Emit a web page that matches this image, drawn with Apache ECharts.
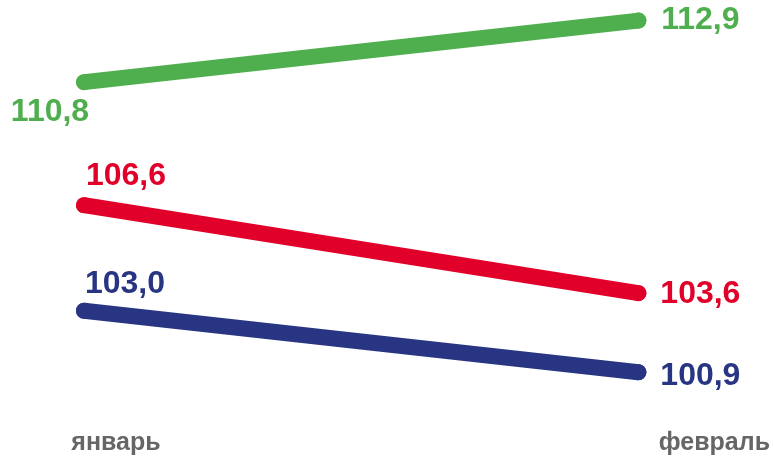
<!DOCTYPE html>
<html><head><meta charset="utf-8">
<script src="https://cdn.jsdelivr.net/npm/echarts@6/dist/echarts.min.js"></script>
<style>html,body{margin:0;padding:0;background:#fff}#c{width:773px;height:457px}</style>
</head><body><div id="c"></div>
<script>
const categories = ['январь', 'февраль'];
const greenValues = [110.8, 112.9];
const redValues = [106.6, 103.6];
const blueValues = [103.0, 100.9];

const fmt = p => p.value.toFixed(1).replace('.', ',');
const FONT = '"Liberation Sans", Arial, sans-serif';

function mkSeries(name, data, color, leftOff, rightOff) {
  return {
    name, type: 'line', data: data.map((v, i) => ({
      value: v,
      label: { offset: i === 0 ? leftOff : rightOff }
    })),
    symbol: 'circle', symbolSize: 16,
    itemStyle: { color },
    lineStyle: { color, width: 16, cap: 'round' },
    label: {
      show: true, position: 'inside', formatter: fmt,
      color, fontFamily: FONT, fontWeight: 'bold', fontSize: 32
    },
    emphasis: { disabled: true }
  };
}

const chart = echarts.init(document.getElementById('c'));
chart.setOption({
  animation: false,
  grid: { left: 84, right: 134, top: 3, bottom: 73 },
  xAxis: {
    type: 'category', data: categories, boundaryGap: false,
    axisLine: { show: false }, axisTick: { show: false }, splitLine: { show: false },
    axisLabel: {
      margin: 47, interval: 0,
      formatter: (v, i) => i === 0 ? '{a|' + v + '}' : '{b|' + v + '}',
      rich: {
        a: { color: '#666666', fontFamily: FONT, fontWeight: 'bold', fontSize: 25, padding: [0, 0, 0, 64] },
        b: { color: '#666666', fontFamily: FONT, fontWeight: 'bold', fontSize: 25, padding: [0, 0, 0, 152] }
      }
    }
  },
  yAxis: { type: 'value', min: 100.5, max: 113.5, show: false, splitLine: { show: false } },
  series: [
    mkSeries('green', greenValues, '#4FAE4E', [-34, 30], [62, 0]),
    mkSeries('red', redValues, '#E1002A', [42, -29], [62, 1]),
    mkSeries('blue', blueValues, '#283583', [41, -27], [62, 4])
  ]
});
</script></body></html>
